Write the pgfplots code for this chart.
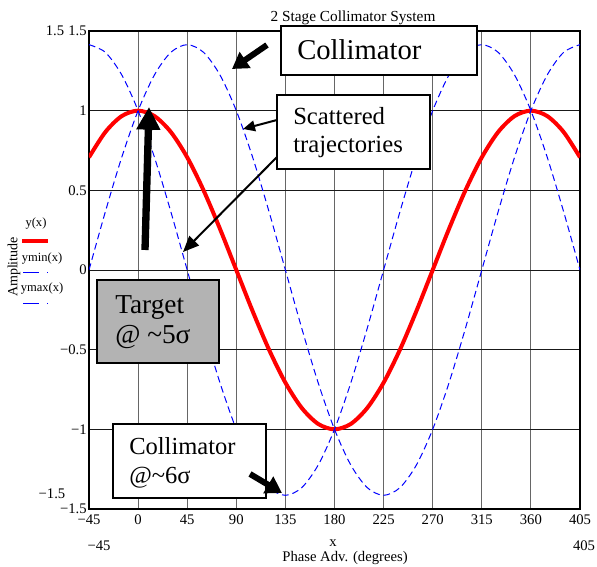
\documentclass[border=0pt]{standalone}
\usepackage{fontspec}
\setmainfont{Liberation Serif}
\usepackage{pgfplots}
\pgfplotsset{compat=1.18}
\usetikzlibrary{arrows.meta}
\definecolor{tgtgray}{RGB}{179,179,179}
\definecolor{cblue}{RGB}{0,0,255}
\definecolor{cred}{RGB}{255,0,0}

\begin{document}
\begin{tikzpicture}
\useasboundingbox (0,0) rectangle (447.75pt,425.25pt);
\begin{axis}[
  at={(66.75pt,43.5pt)}, anchor=south west,
  scale only axis, width=368.25pt, height=358.5pt,
  xmin=-45, xmax=405, ymin=-1.5, ymax=1.5,
  xtick={-45,0,45,90,135,180,225,270,315,360,405},
  ytick={-1.5,-1,-0.5,0,0.5,1,1.5},
  xticklabels={−45,0,45,90,135,180,225,270,315,360,405},
  yticklabels={−1.5,−1,−0.5,0,0.5,1,1.5},
  major tick length=0pt,
  grid=major,
  x grid style={black!60, line width=0.75pt},
  y grid style={black!90, line width=0.6pt},
  axis line style={line width=1.5pt},
  ticklabel style={font=\fontsize{11}{12}\selectfont},
  yticklabel style={inner sep=1.5pt},
  xticklabel style={yshift=-1pt},
]
% y(x)
\addplot[cred, line width=3pt, smooth] coordinates {
  (-45,0.7071)(-30,0.8660)(-15,0.9659)(0,1)(15,0.9659)(30,0.8660)(45,0.7071)
  (60,0.5)(75,0.2588)(90,0)(105,-0.2588)(120,-0.5)(135,-0.7071)(150,-0.8660)
  (165,-0.9659)(180,-1)(195,-0.9659)(210,-0.8660)(225,-0.7071)(240,-0.5)
  (255,-0.2588)(270,0)(285,0.2588)(300,0.5)(315,0.7071)(330,0.8660)
  (345,0.9659)(360,1)(375,0.9659)(390,0.8660)(405,0.7071)};
% ymin(x)
\addplot[cblue, line width=0.75pt, smooth, dash pattern=on 5pt off 3pt] coordinates {
  (-45,1.4142)(-30,1.3660)(-15,1.2247)(0,1)(15,0.7071)(30,0.3660)(45,0)
  (60,-0.3660)(75,-0.7071)(90,-1)(105,-1.2247)(120,-1.3660)(135,-1.4142)
  (150,-1.3660)(165,-1.2247)(180,-1)(195,-0.7071)(210,-0.3660)(225,0)
  (240,0.3660)(255,0.7071)(270,1)(285,1.2247)(300,1.3660)(315,1.4142)
  (330,1.3660)(345,1.2247)(360,1)(375,0.7071)(390,0.3660)(405,0)};
% ymax(x)
\addplot[cblue, line width=0.75pt, smooth, dash pattern=on 5pt off 3pt] coordinates {
  (-45,0)(-30,0.3660)(-15,0.7071)(0,1)(15,1.2247)(30,1.3660)(45,1.4142)
  (60,1.3660)(75,1.2247)(90,1)(105,0.7071)(120,0.3660)(135,0)
  (150,-0.3660)(165,-0.7071)(180,-1)(195,-1.2247)(210,-1.3660)(225,-1.4142)
  (240,-1.3660)(255,-1.2247)(270,-1)(285,-0.7071)(300,-0.3660)(315,0)
  (330,0.3660)(345,0.7071)(360,1)(375,1.2247)(390,1.3660)(405,1.4142)};
\end{axis}

% annotations, in pixel units of the reference (y downward)
\begin{scope}[x=0.75pt, y=-0.75pt, yshift=425.25pt]
  \node[font=\fontsize{11.5}{12}\selectfont] at (353,18) {2 Stage Collimator System};
  \node[font=\fontsize{11}{12}\selectfont] at (55,31) {1.5};
  \node[font=\fontsize{11}{12}\selectfont] at (52,494) {−1.5};
  \node[font=\fontsize{11}{12}\selectfont] at (99,546) {−45};
  \node[font=\fontsize{11}{12}\selectfont] at (584,546) {405};
  \node[font=\fontsize{11}{12}\selectfont, inner sep=0pt] at (333,543) {x};
  \node[font=\fontsize{11}{12}\selectfont, inner sep=0pt] at (345,558) {Phase Adv. (degrees)};
  \node[font=\fontsize{10.5}{12}\selectfont, rotate=90] at (14,267) {Amplitude};

  % legend
  \node[font=\fontsize{9.4}{10}\selectfont] at (36,224) {y(x)};
  \draw[cred, line width=3pt] (22,241) -- (48,241);
  \node[font=\fontsize{9.4}{10}\selectfont] at (42,259) {ymin(x)};
  \draw[cblue, line width=0.75pt, dash pattern=on 12pt off 6pt on 1pt off 3pt] (23,273) -- (48,273);
  \node[font=\fontsize{9.4}{10}\selectfont] at (42,289) {ymax(x)};
  \draw[cblue, line width=0.75pt, dash pattern=on 12pt off 6pt on 1pt off 3pt] (23,304) -- (48,304);

  % top collimator box
  \draw[line width=1.5pt, fill=white] (281,26) rectangle (477,75);
  \node[anchor=base west, inner sep=0pt, font=\fontsize{21.5}{24}\selectfont] at (297,60) {Collimator};
  \draw[line width=4.5pt, -{Triangle[length=12pt,width=14pt]}] (267,45) -- (232,69);

  % scattered trajectories box
  \draw[line width=1.5pt, fill=white] (277,95) rectangle (430,169);
  \node[anchor=base west, inner sep=0pt, font=\fontsize{18.5}{20}\selectfont] at (293,125) {Scattered};
  \node[anchor=base west, inner sep=0pt, font=\fontsize{18.5}{20}\selectfont] at (293,153) {trajectories};
  \draw[line width=1.5pt, -{Triangle[length=9pt,width=8pt]}] (277,120) -- (243,129);
  \draw[line width=1.5pt, -{Triangle[length=12pt,width=10pt]}] (277,157) -- (183,252);

  % target box
  \draw[line width=1.5pt, fill=tgtgray] (97,280) rectangle (219,363);
  \node[anchor=base west, inner sep=0pt, font=\fontsize{20.5}{22}\selectfont] at (115,314) {Target};
  \node[anchor=base west, inner sep=0pt, font=\fontsize{20.5}{22}\selectfont] at (115,344) {@ \textasciitilde5σ};
  \draw[line width=5.5pt, -{Triangle[length=17pt,width=17pt]}] (145,250) -- (149,107);

  % lower collimator box
  \draw[line width=1.5pt, fill=white] (113,424) rectangle (266,498);
  \node[anchor=base west, inner sep=0pt, font=\fontsize{18.4}{20}\selectfont] at (129,455) {Collimator};
  \node[anchor=base west, inner sep=0pt, font=\fontsize{18.4}{20}\selectfont] at (129,484) {@\textasciitilde6σ};
  \draw[line width=4.5pt, -{Triangle[length=12pt,width=14pt]}] (250,474) -- (282,493);
\end{scope}
\end{tikzpicture}
\end{document}
